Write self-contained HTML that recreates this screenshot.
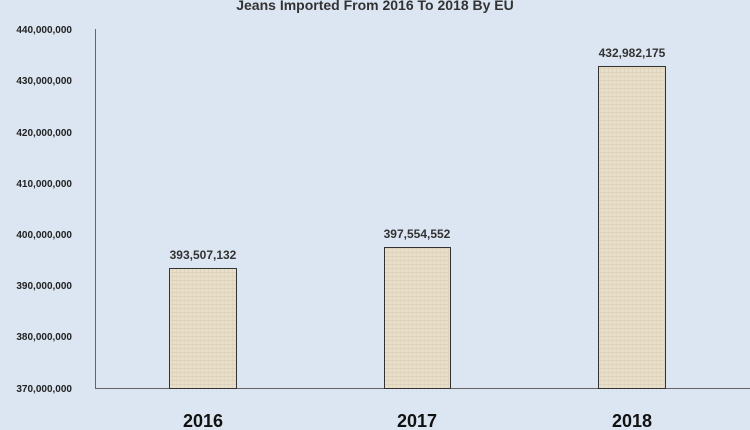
<!DOCTYPE html>
<html><head><style>body{margin:0;background:#dce6f2;}</style></head><body>
<svg width="750" height="430" xmlns="http://www.w3.org/2000/svg" style="display:block;font-family:'Liberation Sans',sans-serif">
<defs>
<pattern id="p" width="4" height="4" patternUnits="userSpaceOnUse">
<rect width="4" height="4" fill="#e8dfca"/>
<rect x="0" y="0" width="4" height="1" fill="#ddd2ba"/>
<rect x="0" y="0" width="1" height="4" fill="#e0d6c0"/>
</pattern>
</defs>
<rect width="750" height="430" fill="#dce6f2"/>
<text x="375" y="10" text-anchor="middle" font-size="14" font-weight="bold" fill="#333">Jeans Imported From 2016 To 2018 By EU</text>
<g font-size="10" font-weight="bold" fill="#222" text-anchor="end">
<text x="72" y="33">440,000,000</text>
<text x="72" y="84">430,000,000</text>
<text x="72" y="136">420,000,000</text>
<text x="72" y="187">410,000,000</text>
<text x="72" y="238">400,000,000</text>
<text x="72" y="289">390,000,000</text>
<text x="72" y="340">380,000,000</text>
<text x="72" y="392">370,000,000</text>
</g>
<line x1="95.5" y1="29" x2="95.5" y2="388" stroke="#666"/>
<line x1="95" y1="388.5" x2="750" y2="388.5" stroke="#666"/>
<g stroke="#333" stroke-width="1" fill="url(#p)">
<rect x="169.5" y="268.5" width="67" height="120"/>
<rect x="384.5" y="247.5" width="66" height="141"/>
<rect x="598.5" y="66.5" width="67" height="322"/>
</g>
<g font-size="12" font-weight="bold" fill="#333" text-anchor="middle">
<text x="203" y="259">393,507,132</text>
<text x="417" y="238">397,554,552</text>
<text x="632" y="57">432,982,175</text>
</g>
<g font-size="18" font-weight="bold" fill="#111" text-anchor="middle">
<text x="203" y="427">2016</text>
<text x="417" y="427">2017</text>
<text x="632" y="427">2018</text>
</g>
</svg>
</body></html>
